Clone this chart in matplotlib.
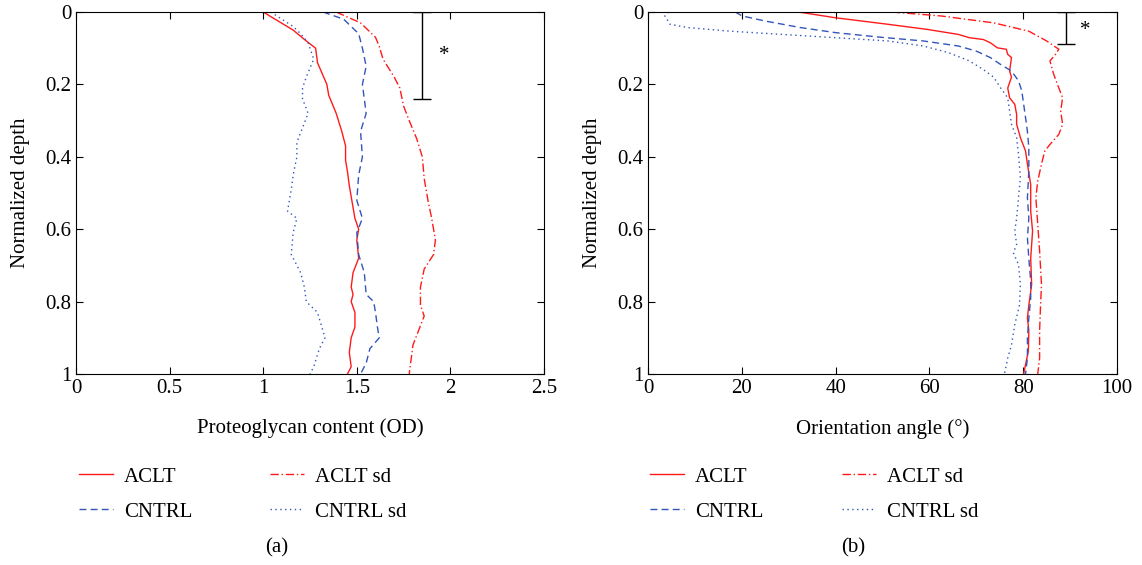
import numpy as np
import matplotlib
matplotlib.use("Agg")
import matplotlib.pyplot as plt
from matplotlib.lines import Line2D

plt.rcParams['font.family'] = ['Liberation Serif', 'DejaVu Serif']

RED = '#ff1a1a'
BLUE = '#3355bb'

# ---- panel (a): proteoglycan content vs depth ----
pg_aclt_d = [0, 0.05, 0.08, 0.10, 0.14, 0.20, 0.23, 0.28, 0.33, 0.37, 0.41, 0.44, 0.48, 0.54,
             0.57, 0.60, 0.63, 0.68, 0.72, 0.76, 0.78, 0.80, 0.83, 0.87, 0.90, 0.94, 0.98, 1.0]
pg_aclt = [1.00, 1.16, 1.23, 1.28, 1.29, 1.34, 1.35, 1.39, 1.42, 1.44, 1.44, 1.45, 1.46, 1.48,
           1.49, 1.51, 1.50, 1.51, 1.48, 1.47, 1.48, 1.47, 1.49, 1.49, 1.47, 1.46, 1.47, 1.45]

pg_cntrl_d = [0, 0.02, 0.06, 0.10, 0.15, 0.20, 0.24, 0.28, 0.33, 0.40, 0.45, 0.52, 0.57, 0.61,
              0.67, 0.72, 0.78, 0.80, 0.83, 0.87, 0.90, 0.93, 0.97, 1.0]
pg_cntrl = [1.32, 1.43, 1.51, 1.53, 1.55, 1.53, 1.54, 1.55, 1.52, 1.53, 1.51, 1.50, 1.53, 1.50,
            1.51, 1.54, 1.55, 1.59, 1.60, 1.61, 1.62, 1.57, 1.55, 1.52]

pg_aclt_sd_d = [0, 0.03, 0.07, 0.095, 0.13, 0.18, 0.21, 0.26, 0.30, 0.35, 0.40, 0.46, 0.52, 0.57,
                0.63, 0.67, 0.71, 0.76, 0.81, 0.84, 0.88, 0.92, 0.96, 1.0]
pg_aclt_sd = [1.39, 1.52, 1.60, 1.62, 1.64, 1.70, 1.73, 1.75, 1.78, 1.82, 1.85, 1.86, 1.88, 1.90,
              1.92, 1.91, 1.86, 1.84, 1.84, 1.86, 1.83, 1.80, 1.79, 1.78]

pg_cntrl_sd_d = [0, 0.04, 0.06, 0.085, 0.13, 0.18, 0.21, 0.24, 0.28, 0.32, 0.36, 0.40, 0.45, 0.49,
                 0.55, 0.57, 0.61, 0.67, 0.72, 0.76, 0.80, 0.83, 0.90, 0.93, 0.98, 1.0]
pg_cntrl_sd = [1.04, 1.16, 1.20, 1.24, 1.27, 1.23, 1.21, 1.21, 1.24, 1.21, 1.18, 1.18, 1.16, 1.15,
               1.13, 1.18, 1.16, 1.15, 1.20, 1.22, 1.23, 1.29, 1.33, 1.30, 1.27, 1.25]

# ---- panel (b): orientation angle vs depth ----
oa_aclt_d = [0, 0.016, 0.034, 0.048, 0.062, 0.071, 0.076, 0.085, 0.099, 0.103, 0.117, 0.126, 0.163,
             0.18, 0.21, 0.237, 0.255, 0.283, 0.31, 0.347, 0.384, 0.42, 0.477, 0.55, 0.605, 0.68,
             0.753, 0.81, 0.845, 0.88, 0.937, 0.974, 1.0]
oa_aclt = [32.1, 40, 51.2, 59.5, 66.2, 68.5, 71.5, 73, 74.5, 76.4, 76.7, 77.5, 77.1,
           77.5, 76.7, 77.1, 78.2, 78.6, 78.6, 79.4, 80.5, 80.9, 81.6, 81.6, 82, 81.6,
           81.8, 81.2, 80.9, 81.2, 81.1, 80.5, 80.1]

oa_cntrl_d = [0, 0.011, 0.025, 0.043, 0.057, 0.069, 0.08, 0.094, 0.108, 0.126, 0.145, 0.163, 0.19,
              0.218, 0.255, 0.292, 0.33, 0.375, 0.44, 0.513, 0.569, 0.624, 0.68, 0.744, 0.79,
              0.845, 0.9, 0.956, 1.0]
oa_cntrl = [18.6, 20.1, 25, 32.5, 40, 49, 58.7, 66.2, 70, 73, 75.2, 77.5, 79,
            79.7, 80.1, 80.5, 80.9, 81.2, 81.2, 80.9, 81.2, 80.9, 81.2, 81.6, 81.6,
            81.2, 80.9, 80.9, 80.5]

oa_aclt_sd_d = [0, 0.011, 0.03, 0.053, 0.08, 0.103, 0.117, 0.135, 0.172, 0.21, 0.237, 0.274, 0.31,
                0.338, 0.366, 0.384, 0.42, 0.467, 0.513, 0.587, 0.66, 0.753, 0.81, 0.88, 0.956, 1.0]
oa_aclt_sd = [52, 62.5, 73.7, 81.2, 85, 87.6, 86.9, 85.7, 86.5, 87.6, 88.4, 88, 88.4,
              87.6, 85.7, 84.6, 83.9, 83.1, 82.7, 83.1, 83.5, 83.9, 83.7, 83.5, 83.5, 83.1]

oa_cntrl_sd_d = [0, 0.011, 0.034, 0.043, 0.053, 0.062, 0.071, 0.08, 0.094, 0.112, 0.135, 0.159, 0.18,
                 0.21, 0.237, 0.274, 0.31, 0.347, 0.394, 0.458, 0.513, 0.57, 0.605, 0.642, 0.665,
                 0.698, 0.753, 0.81, 0.864, 0.92, 0.956, 1.0]
oa_cntrl_sd = [4.4, 3.6, 4.7, 8.5, 17.5, 28.7, 40, 51.2, 58.7, 64, 68.5, 71.5, 73.7,
               75.2, 76.7, 77.1, 77.5, 78.6, 79, 79.4, 79, 78.6, 78.2, 78.6, 77.9,
               79, 79.4, 79.2, 78.2, 77.5, 76.7, 76]

legend_labels = ['ACLT', 'CNTRL', 'ACLT sd', 'CNTRL sd']

FS = 15

fig = plt.figure(figsize=(11.42, 5.65), dpi=100)
axa = fig.add_axes([76 / 1142, 1 - 374 / 565, 468 / 1142, 362 / 565])
axb = fig.add_axes([648 / 1142, 1 - 374 / 565, 469 / 1142, 362 / 565])

styles = [dict(color=RED, ls='-', lw=1.0),
          dict(color=BLUE, ls=(0, (5, 3)), lw=1.0),
          dict(color=RED, ls=(0, (6, 2, 1, 2)), lw=1.0),
          dict(color=BLUE, ls=(0, (1, 2.5)), lw=1.0)]

sets_a = [(pg_aclt, pg_aclt_d), (pg_cntrl, pg_cntrl_d),
          (pg_aclt_sd, pg_aclt_sd_d), (pg_cntrl_sd, pg_cntrl_sd_d)]
sets_b = [(oa_aclt, oa_aclt_d), (oa_cntrl, oa_cntrl_d),
          (oa_aclt_sd, oa_aclt_sd_d), (oa_cntrl_sd, oa_cntrl_sd_d)]

for ax, sets in [(axa, sets_a), (axb, sets_b)]:
    for (x, d), st in zip(sets, styles):
        ax.plot(x, d, **st)
    ax.set_ylim(1, 0)
    ax.set_yticks([0, 0.2, 0.4, 0.6, 0.8, 1])
    ax.set_yticklabels(['0', '0.2', '0.4', '0.6', '0.8', '1'])
    ax.tick_params(direction='in', top=True, right=True, labelsize=FS, length=5, width=0.8)
    ax.set_ylabel('Normalized depth', fontsize=FS, labelpad=11)
    for s in ax.spines.values():
        s.set_linewidth(0.8)

axa.set_xlim(0, 2.5)
axa.set_xticks([0, 0.5, 1, 1.5, 2, 2.5])
axa.set_xticklabels(['0', '0.5', '1', '1.5', '2', '2.5'])
axa.set_xlabel('Proteoglycan content (OD)', fontsize=FS, labelpad=15)

axb.set_xlim(0, 100)
axb.set_xticks([0, 20, 40, 60, 80, 100])
axb.set_xlabel('Orientation angle (°)', fontsize=FS, labelpad=15)

# significance bars
axa.errorbar([1.85], [0.12], yerr=[[0.12], [0.12]], color='black', lw=1.0, capsize=6.5, capthick=1.0)
axa.text(1.94, 0.12, '*', fontsize=FS, ha='left', va='center')
axb.errorbar([89.1], [0.044], yerr=[[0.044], [0.044]], color='black', lw=1.0, capsize=6.5, capthick=1.0)
axb.text(92.2, 0.05, '*', fontsize=FS, ha='left', va='center')

# legends below each panel
handles = [Line2D([], [], **st) for st in styles]
for x0, x1 in [(79, 270), (650, 842)]:
    for col, (hs, ls) in enumerate([(handles[:2], legend_labels[:2]), (handles[2:], legend_labels[2:])]):
        fig.legend(hs, ls, loc='upper left',
                   bbox_to_anchor=((x0 if col == 0 else x1) / 1142, 1 - 467 / 565),
                   frameon=False, fontsize=FS, handlelength=1.63, handletextpad=0.53,
                   labelspacing=0.75, borderpad=0, borderaxespad=0)

fig.text(277 / 1142, 1 - 548 / 565, '(a)', fontsize=FS, ha='center', va='center')
fig.text(853 / 1142, 1 - 548 / 565, '(b)', fontsize=FS, ha='center', va='center')

fig.savefig('out.png', dpi=100)
